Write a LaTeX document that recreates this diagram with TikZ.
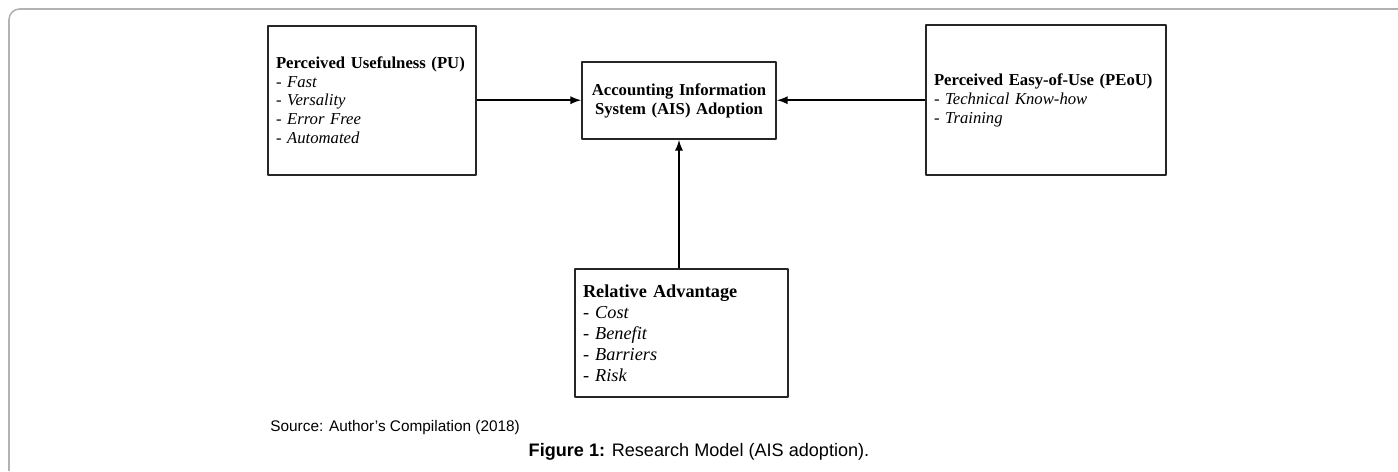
\documentclass[tikz,border=0pt]{standalone}
\usepackage{fontspec}
\setmainfont{Liberation Serif}
\newfontfamily\capfont{Liberation Sans}
\usetikzlibrary{positioning}

\begin{document}
\begin{tikzpicture}[x=0.02cm, y=-0.02cm, line join=round, >=latex,
	box/.style={draw=black!85, line width=1.1pt, inner xsep=0.16cm, inner ysep=0pt, align=left},
	link/.style={->, line width=1.1pt}]
		\useasboundingbox (0,0) rectangle (1398,471);
		\draw[black!30, line width=0.9pt, rounded corners=6pt] (9,471)--(9,9)--(1398,9);
		\node[box, text width=3.84cm, minimum height=2.98cm, font=\fontsize{9.5}{10.8}\selectfont] (pu) at (372,100.2) {\textbf{Perceived Usefulness (PU)}\\- \textit{Fast}\\- \textit{Versality}\\- \textit{Error Free}\\- \textit{Automated}};
		\node[box, align=center, text width=3.56cm, minimum height=1.54cm, font=\fontsize{9.5}{10.8}\selectfont] (ais) at (679,100.5) {\textbf{Accounting Information}\\\textbf{System (AIS) Adoption}};
		\node[box, text width=4.48cm, minimum height=3cm, font=\fontsize{9.5}{10.8}\selectfont] (peou) at (1046,100.2) {\textbf{Perceived Easy-of-Use (PEoU)}\\- \textit{Technical Know-how}\\- \textit{Training}};
		\node[box, text width=3.94cm, minimum height=2.56cm, font=\fontsize{10.4}{11.9}\selectfont] (ra) at (681.5,333) {\textbf{Relative Advantage}\\- \textit{Cost}\\- \textit{Benefit}\\- \textit{Barriers}\\- \textit{Risk}};
		\draw[link] (pu.east)--(pu.east -| ais.west);
		\draw[link] (peou.west)--(peou.west -| ais.east);
		\draw[link] (ra.north -| ais.south)--(ais.south);
		\node[anchor=west, inner sep=0pt, font=\capfont\fontsize{8.75}{10}\selectfont] (src) at (270,428) {Source: Author’s Compilation (2018)};
		\node[inner sep=0pt, font=\capfont\fontsize{10.3}{12}\selectfont] (cap) at (699,452) {\textbf{Figure 1:} Research Model (AIS adoption).};
	\end{tikzpicture}
\end{document}
